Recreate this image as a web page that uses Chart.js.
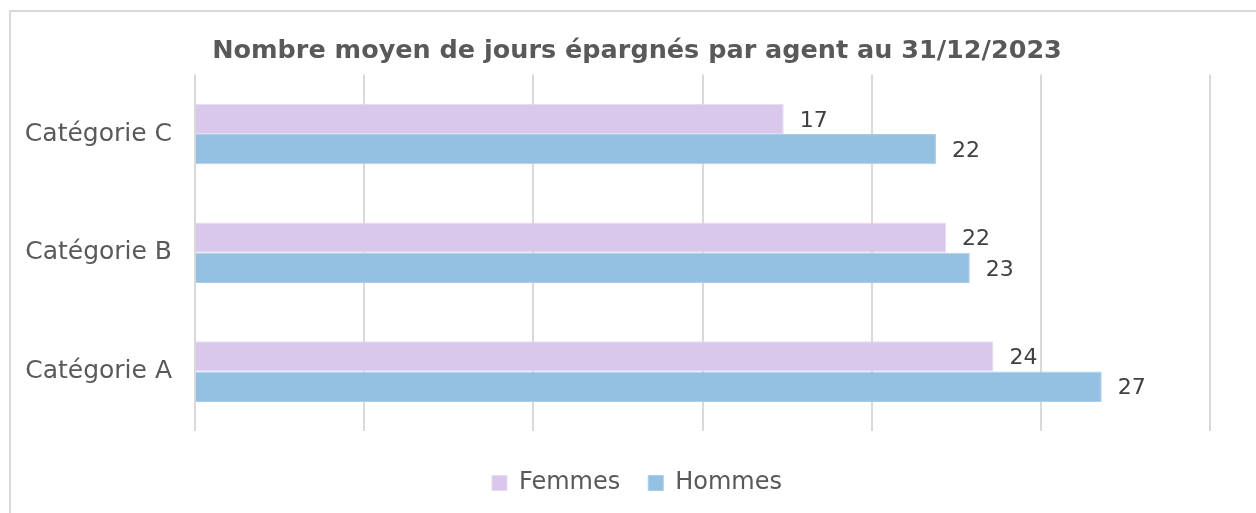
<!DOCTYPE html>
<html>
<head>
<meta charset="utf-8">
<script src="https://cdn.jsdelivr.net/npm/chart.js@4"></script>
<style>
    html, body { margin: 0; padding: 0; background: #fff; overflow: hidden; }
    body { width: 1256px; height: 513px; position: relative; }
    .frame { position: absolute; left: 9px; top: 10px; width: 1247px; height: 503px;
             border-left: 2px solid #d9d9d9; border-top: 2px solid #d9d9d9; box-sizing: border-box; }
    /* the original chart box runs a little past the right edge of the picture */
    #wrap { position: absolute; left: 0; top: 0; width: 1274px; height: 513px; }
</style>
</head>
<body>
<div class="frame"></div>
<div id="wrap"><canvas id="savingsChart"></canvas></div>
<script>
const categories = ['Catégorie C', 'Catégorie B', 'Catégorie A'];
const femmes = [17.4, 22.2, 23.6];
const hommes = [21.9, 22.9, 26.8];
const xTicks = [0, 5, 10, 15, 20, 25, 30];

const LABEL_FONT = "'DejaVu Sans', sans-serif";
const TEXT = '#595959';

// draws the value next to the end of each bar (no datalabels plugin offline)
const valueLabels = {
    id: 'valueLabels',
    afterDatasetsDraw(chart) {
        const ctx = chart.ctx;
        ctx.save();
        ctx.font = "22px " + LABEL_FONT;
        ctx.fillStyle = '#404040';
        ctx.textBaseline = 'middle';
        ctx.textAlign = 'left';
        chart.data.datasets.forEach((ds, i) => {
            chart.getDatasetMeta(i).data.forEach((bar, j) => {
                ctx.fillText(Math.round(ds.data[j]), bar.x + 16, bar.y + 2);
            });
        });
        ctx.restore();
    }
};

const ctx = document.getElementById('savingsChart');
new Chart(ctx, {
    type: 'bar',
    data: {
        labels: categories,
        datasets: [
            { label: 'Femmes', data: femmes, backgroundColor: '#d9c8ec', borderColor: '#e6dbf2', borderWidth: 1 },
            { label: 'Hommes', data: hommes, backgroundColor: '#94c1e1', borderColor: '#a9cde8', borderWidth: 1 }
        ]
    },
    options: {
        indexAxis: 'y',
        responsive: true,
        maintainAspectRatio: false,
        animation: false,
        layout: { padding: { left: 0, right: 0, top: 0, bottom: 8 } },
        datasets: { bar: { categoryPercentage: 0.51, barPercentage: 1.0 } },
        scales: {
            x: {
                min: xTicks[0],
                max: xTicks[xTicks.length - 1],
                afterBuildTicks: (scale) => { scale.ticks = xTicks.map(v => ({ value: v })); },
                ticks: { display: false },
                grid: { color: '#d9d9d9', lineWidth: 2, drawTicks: false },
                border: { display: false },
                afterFit: (scale) => { scale.height = 12; }
            },
            y: {
                grid: { display: false, drawTicks: false },
                border: { display: false },
                ticks: { color: TEXT, padding: 23, font: { family: LABEL_FONT, size: 25 } },
                afterFit: (scale) => { scale.width = 195; }
            },
            // empty right-hand axis, only keeps the right margin of the plot
            yRight: {
                type: 'category',
                position: 'right',
                grid: { display: false, drawTicks: false },
                border: { display: false },
                ticks: { display: false },
                afterFit: (scale) => { scale.width = 64; }
            }
        },
        plugins: {
            title: {
                display: true,
                text: 'Nombre moyen de jours épargnés par agent au 31/12/2023',
                color: TEXT,
                font: { family: "'DejaVu Sans', sans-serif", size: 25.5, weight: 'bold' },
                padding: { top: 36, bottom: 8 }
            },
            legend: {
                position: 'bottom',
                labels: {
                    color: TEXT,
                    boxWidth: 15,
                    boxHeight: 15,
                    padding: 28,
                    font: { family: LABEL_FONT, size: 24 }
                }
            },
            tooltip: { enabled: false }
        }
    },
    plugins: [valueLabels]
});
</script>
</body>
</html>
